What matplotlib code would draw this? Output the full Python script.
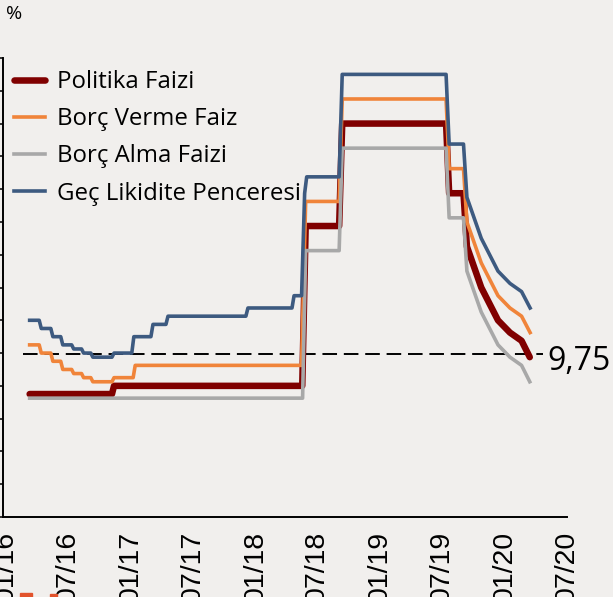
"""
TCMB faiz koridoru grafiği
"""

import matplotlib.pyplot as plt
import matplotlib.dates as mdates
import matplotlib.patches as mpatches
import pandas as pd

# Politika Faizi
politika_tarih = ['2016-03-11', '2016-11-07', '2016-11-13', '2018-05-18', '2018-05-28',
                  '2018-09-03', '2018-09-12', '2019-07-13', '2019-07-22', '2019-09-02',
                  '2019-09-12', '2019-10-24', '2019-12-12', '2020-01-16', '2020-02-19',
                  '2020-03-14']
politika_deger = [7.5, 7.5, 8.0, 8.0, 17.75,
                  17.75, 24.0, 24.0, 19.75, 19.75,
                  16.5, 14.0, 12.0, 11.25, 10.75,
                  9.75]

# Borç Verme Faizi
verme_tarih = ['2016-03-11', '2016-04-08', '2016-04-14', '2016-05-12', '2016-05-18',
               '2016-06-10', '2016-06-16', '2016-07-12', '2016-07-18', '2016-08-10',
               '2016-08-16', '2016-09-06', '2016-09-12', '2016-11-07', '2016-11-13',
               '2017-01-08', '2017-01-14', '2018-05-16', '2018-05-28', '2018-09-03',
               '2018-09-12', '2019-07-13', '2019-07-22', '2019-09-02', '2019-09-12',
               '2019-10-24', '2019-12-12', '2020-01-16', '2020-02-19', '2020-03-15']
verme_deger = [10.5, 10.5, 10.0, 10.0, 9.5,
               9.5, 9.0, 9.0, 8.75, 8.75,
               8.5, 8.5, 8.25, 8.25, 8.5,
               8.5, 9.25, 9.25, 19.25, 19.25,
               25.5, 25.5, 21.25, 21.25, 18.0,
               15.5, 13.5, 12.75, 12.25, 11.25]

# Borç Alma Faizi
alma_tarih = ['2016-03-11', '2018-05-19', '2018-05-28', '2018-09-03', '2018-09-12',
              '2019-07-13', '2019-07-22', '2019-09-02', '2019-09-12', '2019-10-24',
              '2019-12-12', '2020-01-16', '2020-02-19', '2020-03-14']
alma_deger = [7.25, 7.25, 16.25, 16.25, 22.5,
              22.5, 18.25, 18.25, 15.0, 12.5,
              10.5, 9.75, 9.25, 8.25]

# Geç Likidite Penceresi
glp_tarih = ['2016-03-11', '2016-04-08', '2016-04-14', '2016-05-12', '2016-05-18',
             '2016-06-10', '2016-06-16', '2016-07-12', '2016-07-18', '2016-08-10',
             '2016-08-16', '2016-09-06', '2016-09-12', '2016-11-07', '2016-11-13',
             '2017-01-04', '2017-01-10', '2017-03-01', '2017-03-07', '2017-04-14',
             '2017-04-20', '2017-12-04', '2017-12-10', '2018-04-18', '2018-04-24',
             '2018-05-16', '2018-05-25', '2018-05-31', '2018-09-03', '2018-09-12',
             '2019-07-13', '2019-07-22', '2019-09-02', '2019-09-12', '2019-10-24',
             '2019-12-12', '2020-01-16', '2020-02-19', '2020-03-15']
glp_deger = [12.0, 12.0, 11.5, 11.5, 11.0,
             11.0, 10.5, 10.5, 10.25, 10.25,
             10.0, 10.0, 9.75, 9.75, 10.0,
             10.0, 11.0, 11.0, 11.75, 11.75,
             12.25, 12.25, 12.75, 12.75, 13.5,
             13.5, 19.75, 20.75, 20.75, 27.0,
             27.0, 22.75, 22.75, 19.5, 17.0,
             15.0, 14.25, 13.75, 12.75]

seri_adlari = ['Politika Faizi', 'Borç Verme Faiz', 'Borç Alma Faizi', 'Geç Likidite Penceresi']
kesikli_seviye = 9.95   # resimde çizgi etiketin biraz üstünde duruyor
son_etiket = '9,75'

ARKA = '#f1efed'
plt.rcParams['font.family'] = ['Open Sans', 'DejaVu Sans']

fig = plt.figure(figsize=(6.13, 5.97), dpi=100, facecolor=ARKA)
ax = fig.add_axes([3 / 613, 80 / 597, 564 / 613, 459 / 597])
ax.set_facecolor(ARKA)

# seriler
ax.plot(pd.to_datetime(politika_tarih), politika_deger, color='#800000', lw=4.7,
        solid_capstyle='round', label=seri_adlari[0], zorder=3)
ax.plot(pd.to_datetime(verme_tarih), verme_deger, color='#f0843a', lw=2.6,
        label=seri_adlari[1], zorder=4)
ax.plot(pd.to_datetime(alma_tarih), alma_deger, color='#a8a8a8', lw=2.6,
        label=seri_adlari[2], zorder=5)
ax.plot(pd.to_datetime(glp_tarih), glp_deger, color='#3d5a80', lw=2.6,
        label=seri_adlari[3], zorder=6)

# 9,75 kesikli çizgi
ax.plot(pd.to_datetime(['2016-02-21', '2020-04-21']), [kesikli_seviye, kesikli_seviye],
        color='black', lw=1.4, dashes=(7.5, 3.5), zorder=2)
ax.text(pd.Timestamp('2020-05-06'), 9.5, son_etiket, fontsize=23,
        ha='left', va='center', clip_on=False)

# eksenler
ax.set_xlim(pd.Timestamp('2015-12-24'), pd.Timestamp('2020-07-01'))
ax.set_ylim(0, 28)
ax.set_yticks(range(0, 29, 2))
ax.xaxis.set_major_locator(mdates.MonthLocator(bymonth=[1, 7]))
ax.xaxis.set_major_formatter(mdates.DateFormatter('%m/%y'))
for lbl in ax.get_xticklabels():
    lbl.set_family(['Liberation Sans', 'DejaVu Sans'])
ax.tick_params(axis='x', length=0, pad=10, labelsize=20.5, labelrotation=90)
ax.tick_params(axis='y', direction='out', length=4, width=1.1, labelleft=False)
ax.spines['top'].set_visible(False)
ax.spines['right'].set_visible(False)
ax.spines['left'].set_linewidth(1.4)
ax.spines['bottom'].set_linewidth(1.4)

ax.legend(loc='upper left', bbox_to_anchor=(14 / 613, (597 - 70) / 597),
          bbox_transform=fig.transFigure, frameon=False, fontsize=17.3,
          handlelength=1.3, handletextpad=0.5, labelspacing=0.55,
          borderpad=0, borderaxespad=0)

fig.text(6 / 613, (597 - 14) / 597, '%', fontsize=14, ha='left', va='center')

# alttaki kesik logo parçaları
fig.patches.append(mpatches.Rectangle((20 / 613, 0), 12 / 613, 4 / 597,
                                      transform=fig.transFigure, color='#e2532c'))
fig.patches.append(mpatches.Rectangle((50 / 613, 0), 7 / 613, 3 / 597,
                                      transform=fig.transFigure, color='#e2532c'))

plt.savefig('out.png', dpi=100, facecolor=ARKA)
plt.close()
